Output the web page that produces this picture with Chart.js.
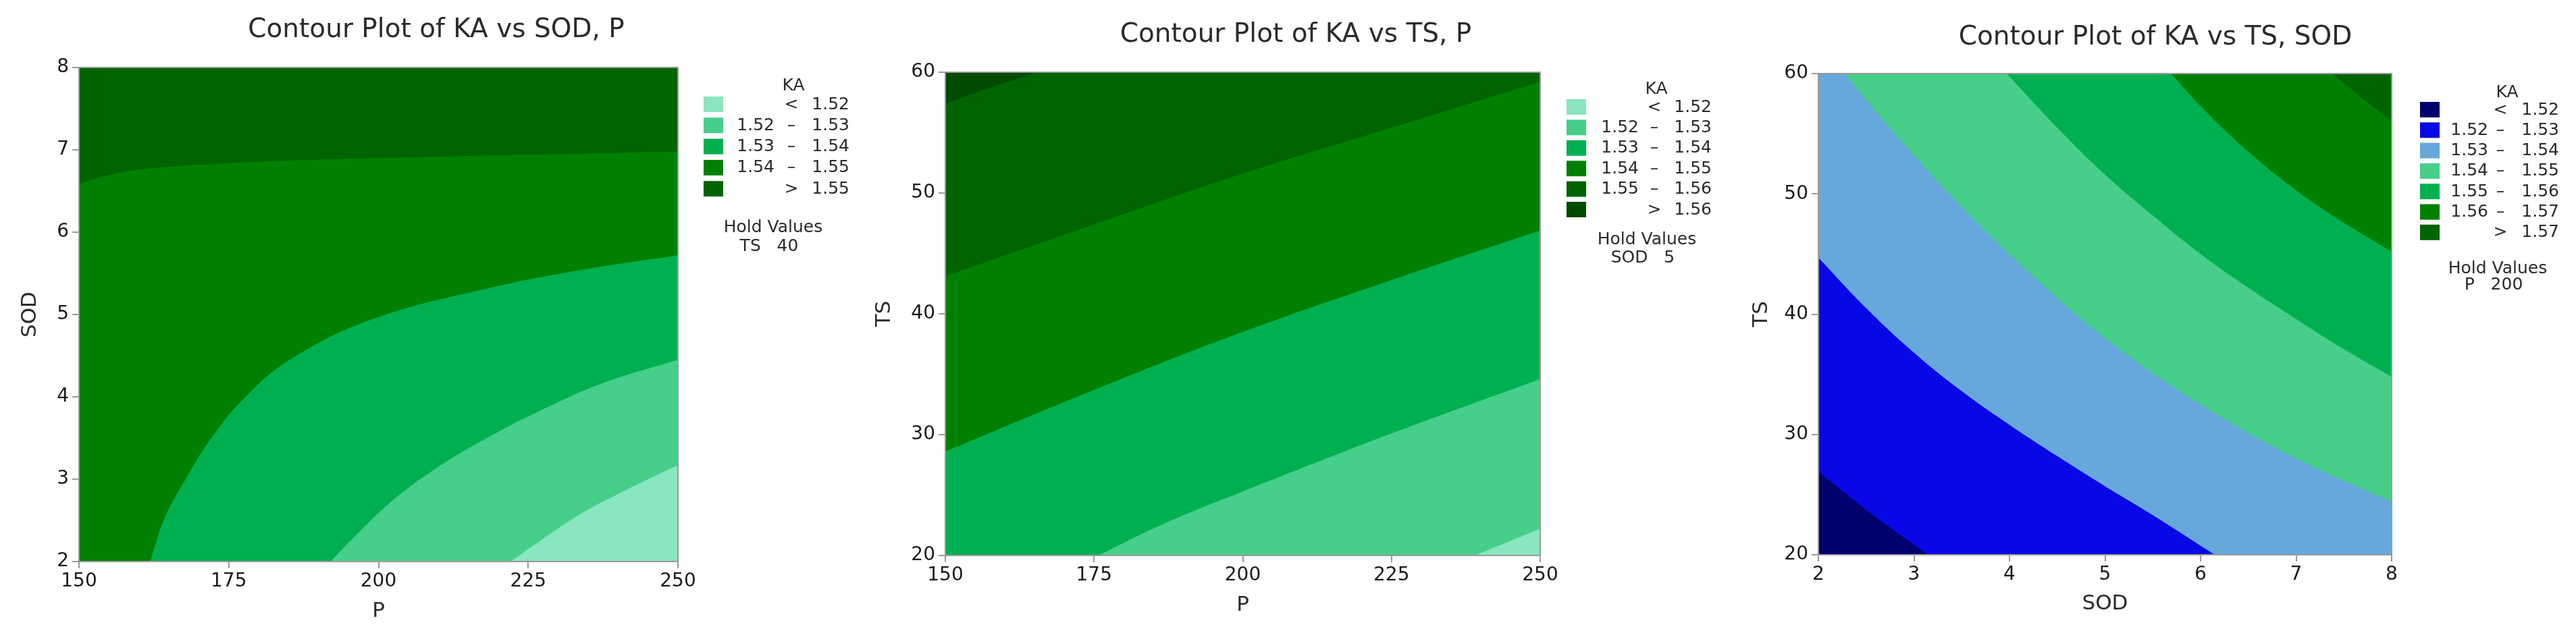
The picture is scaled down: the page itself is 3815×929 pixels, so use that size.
<!DOCTYPE html>
<html>
<head>
<meta charset="utf-8">
<title>Contour Plots of KA</title>
<script src="https://cdn.jsdelivr.net/npm/chart.js@4"></script>
<style>
  body { margin: 0; background: #fff; }
  #wrap { position: relative; width: 3815px; height: 929px; }
  canvas { position: absolute; top: 0; }
</style>
</head>
<body>
<div id="wrap">
  <canvas id="c1" width="1270" height="929" style="left:0"></canvas>
  <canvas id="c2" width="1270" height="929" style="left:1270px"></canvas>
  <canvas id="c3" width="1275" height="929" style="left:2540px"></canvas>
</div>
<script>
// axis ticks
var pTicks = [150, 175, 200, 225, 250];
var sodTicks = [2, 3, 4, 5, 6, 7, 8];
var tsTicks = [20, 30, 40, 50, 60];

// KA contour levels per panel
var levelsSodP = [1.52, 1.53, 1.54, 1.55];
var levelsTsP = [1.52, 1.53, 1.54, 1.55, 1.56];
var levelsTsSod = [1.52, 1.53, 1.54, 1.55, 1.56, 1.57];

// hold values
var holdSodP = ['TS', 40];
var holdTsP = ['SOD', 5];
var holdTsSod = ['P', 200];

// contour lines, [x, y]
// panel 1: x = P, y = SOD
var sodP_155 = [[150, 6.58], [153, 6.66], [156, 6.71], [160, 6.76], [166, 6.80], [173, 6.83], [185, 6.87], [200, 6.90], [225, 6.94], [250, 6.98]];
var sodP_154 = [[161.9, 2.0], [164.2, 2.51], [167.8, 3.0], [171.9, 3.48], [177.4, 3.97], [185.2, 4.45], [198.9, 4.94], [219, 5.33], [234.5, 5.55], [250, 5.72]];
var sodP_153 = [[192.0, 2.0], [196.1, 2.31], [202.5, 2.75], [209.8, 3.14], [218.9, 3.53], [228.1, 3.87], [237.2, 4.16], [250, 4.45]];
var sodP_152 = [[222.1, 2.0], [226, 2.2], [233.8, 2.58], [240, 2.82], [247.3, 3.08], [250, 3.17]];

// panel 2: x = P, y = TS
var tsP_156 = [[150, 57.4], [158, 58.8], [165.5, 60]];
var tsP_155 = [[150, 43.1], [175, 47.4], [200, 51.6], [225, 55.4], [250, 59.2]];
var tsP_154 = [[150, 28.6], [175, 33.7], [200, 38.5], [225, 42.8], [250, 46.9]];
var tsP_153 = [[175.7, 20], [186.6, 22.6], [200, 25.3], [225, 30.1], [250, 34.6]];
var tsP_152 = [[239, 20], [245, 21.2], [250, 22.2]];

// panel 3: x = SOD, y = TS
var tsSod_152 = [[2, 26.9], [2.59, 23.2], [3.15, 20]];
var tsSod_153 = [[2, 44.7], [2.5, 40.5], [3, 36.8], [3.5, 33.6], [4, 30.8], [4.5, 28.2], [5, 25.7], [5.5, 23.3], [6.15, 20]];
var tsSod_154 = [[2.27, 60], [2.8, 55], [3.44, 49.4], [4.2, 43.5], [5, 38], [6, 32.5], [7, 28], [8, 24.4]];
var tsSod_155 = [[3.97, 60], [4.5, 55.5], [5, 51.6], [5.5, 48.2], [6, 45], [6.5, 42.2], [7, 39.6], [7.5, 37.1], [8, 34.8]];
var tsSod_156 = [[5.69, 60], [6, 57.3], [6.5, 53.5], [7, 50.3], [7.5, 47.6], [8, 45.2]];
var tsSod_157 = [[7.38, 60], [7.7, 57.9], [8, 56]];

var pal = {
  lt: '#89E6BE', mint: '#47CE8B', mid: '#00B050', green: '#008000',
  dark: '#006400', darkest: '#004B00',
  navy: '#00006E', blue: '#0808E6', lblue: '#66A8DC'
};

Chart.defaults.font.family = '"DejaVu Sans", sans-serif';

// plot background (the band on top) and grey frame
var framePlugin = {
  id: 'frame',
  beforeDatasetsDraw: function (chart, args, o) {
    var a = chart.chartArea, ctx = chart.ctx;
    ctx.save();
    ctx.fillStyle = o.base;
    ctx.fillRect(a.left, a.top, a.right - a.left, a.bottom - a.top);
    ctx.restore();
  },
  afterDatasetsDraw: function (chart) {
    var a = chart.chartArea, ctx = chart.ctx;
    ctx.save();
    ctx.strokeStyle = '#9a9a9a';
    ctx.lineWidth = 2;
    ctx.strokeRect(a.left, a.top, a.right - a.left, a.bottom - a.top);
    ctx.restore();
  }
};

var titlePlugin = {
  id: 'panelTitle',
  afterDraw: function (chart, args, o) {
    var ctx = chart.ctx;
    ctx.save();
    ctx.font = '39px "DejaVu Sans"';
    ctx.fillStyle = '#2b2b2b';
    ctx.textAlign = 'center';
    ctx.textBaseline = 'middle';
    ctx.fillText(o.text, o.x, o.y);
    ctx.restore();
  }
};

// KA legend + hold values
var legendPlugin = {
  id: 'kaLegend',
  afterDraw: function (chart, args, o) {
    var ctx = chart.ctx, lv = o.levels, n = lv.length;
    ctx.save();
    ctx.font = '25px "DejaVu Sans"';
    ctx.textBaseline = 'middle';
    ctx.fillStyle = '#2b2b2b';
    ctx.textAlign = 'center';
    ctx.fillText('KA', o.kaX, o.kaY);
    for (var i = 0; i <= n; i++) {
      var y = o.y0 + i * o.step;
      var cy = y + 12;
      ctx.fillStyle = o.colors[i];
      ctx.fillRect(o.boxX, y, 29, 23);
      ctx.fillStyle = '#2b2b2b';
      ctx.textAlign = 'center';
      ctx.fillText(i === 0 ? '<' : (i === n ? '>' : '\u2013'), o.dashX, cy);
      ctx.textAlign = 'right';
      if (i > 0 && i < n) ctx.fillText(lv[i - 1].toFixed(2), o.leftX, cy);
      ctx.fillText(lv[Math.min(i, n - 1)].toFixed(2), o.rightX, cy);
    }
    ctx.textAlign = 'center';
    ctx.fillText('Hold Values', o.holdX, o.holdY);
    ctx.fillText(o.hold[0] + '   ' + o.hold[1], o.holdX - 6, o.holdY + o.holdGap);
    ctx.restore();
  }
};

Chart.register(framePlugin, titlePlugin, legendPlugin);

function band(line, color, fill, order) {
  return {
    data: line.map(function (p) { return { x: p[0], y: p[1] }; }),
    backgroundColor: color,
    borderColor: color,
    borderWidth: 0,
    pointRadius: 0,
    fill: fill,
    order: order,
    tension: 0.4
  };
}

function axis(ticks, title, titlePad, size, vertical) {
  return {
    type: 'linear',
    min: ticks[0],
    max: ticks[ticks.length - 1],
    afterBuildTicks: function (s) {
      s.ticks = ticks.map(function (v) { return { value: v }; });
    },
    ticks: { color: '#1a1a1a', font: { size: 28 }, padding: vertical ? 5 : 3 },
    grid: { drawOnChartArea: false, drawTicks: true, tickLength: 10, color: '#9a9a9a', lineWidth: 2 },
    border: { color: '#9a9a9a', width: 2 },
    title: { display: true, text: title, color: '#2b2b2b', font: { size: 31 }, padding: titlePad },
    afterFit: function (s) {
      if (vertical) s.width = size; else s.height = size;
    }
  };
}

function makePanel(id, p) {
  var ctx = document.getElementById(id).getContext('2d');
  var n = p.bands.length;
  return new Chart(ctx, {
    type: 'line',
    data: {
      datasets: p.bands.map(function (b, i) { return band(b[0], b[1], b[2], n - i); })
    },
    options: {
      responsive: false,
      animation: false,
      devicePixelRatio: 1,
      layout: { padding: p.padding },
      scales: {
        x: axis(p.xTicks, p.xTitle, { top: 0, bottom: p.xTitlePad }, p.xSize, false),
        y: axis(p.yTicks, p.yTitle, { top: p.yTitlePad, bottom: 0 }, p.ySize, true)
      },
      plugins: {
        legend: { display: false },
        tooltip: { enabled: false },
        frame: { base: p.base },
        panelTitle: p.title,
        kaLegend: p.legend
      }
    }
  });
}

makePanel('c1', {
  xTicks: pTicks, xTitle: 'P', xTitlePad: 4, xSize: 97,
  yTicks: sodTicks, yTitle: 'SOD', yTitlePad: 26, ySize: 117,
  padding: { top: 100, right: 266, left: 0, bottom: 0 },
  base: pal.dark,
  bands: [
    [sodP_155, pal.green, 'start'],
    [sodP_154, pal.mid, 'start'],
    [sodP_153, pal.mint, 'start'],
    [sodP_152, pal.lt, 'start']
  ],
  title: { text: 'Contour Plot of KA vs SOD, P', x: 646, y: 45 },
  legend: {
    levels: levelsSodP, colors: [pal.lt, pal.mint, pal.mid, pal.green, pal.dark],
    boxX: 1042, y0: 143, step: 31.3, kaX: 1175, kaY: 127,
    leftX: 1147, dashX: 1172, rightX: 1258,
    hold: holdSodP, holdX: 1145, holdY: 337, holdGap: 28
  }
});

makePanel('c2', {
  xTicks: pTicks, xTitle: 'P', xTitlePad: 13, xSize: 106,
  yTicks: tsTicks, yTitle: 'TS', yTitlePad: 21, ySize: 130,
  padding: { top: 107, right: 259, left: 0, bottom: 0 },
  base: pal.dark,
  bands: [
    [tsP_156, pal.darkest, 'end'],
    [tsP_155, pal.green, 'start'],
    [tsP_154, pal.mid, 'start'],
    [tsP_153, pal.mint, 'start'],
    [tsP_152, pal.lt, 'start']
  ],
  title: { text: 'Contour Plot of KA vs TS, P', x: 649, y: 52 },
  legend: {
    levels: levelsTsP, colors: [pal.lt, pal.mint, pal.mid, pal.green, pal.dark, pal.darkest],
    boxX: 1050, y0: 147, step: 30.4, kaX: 1183, kaY: 132,
    leftX: 1157, dashX: 1180, rightX: 1265,
    hold: holdTsP, holdX: 1169, holdY: 355, holdGap: 27
  }
});

makePanel('c3', {
  xTicks: sodTicks, xTitle: 'SOD', xTitlePad: 15, xSize: 107,
  yTicks: tsTicks, yTitle: 'TS', yTitlePad: 50, ySize: 153,
  padding: { top: 109, right: 273, left: 0, bottom: 0 },
  base: pal.lblue,
  bands: [
    [tsSod_154, pal.mint, 'end'],
    [tsSod_155, pal.mid, 'end'],
    [tsSod_156, pal.green, 'end'],
    [tsSod_157, pal.dark, 'end'],
    [tsSod_153, pal.blue, 'start'],
    [tsSod_152, pal.navy, 'start']
  ],
  title: { text: 'Contour Plot of KA vs TS, SOD', x: 652, y: 56 },
  legend: {
    levels: levelsTsSod, colors: [pal.navy, pal.blue, pal.lblue, pal.mint, pal.mid, pal.green, pal.dark],
    boxX: 1044, y0: 151, step: 30.3, kaX: 1173, kaY: 137,
    leftX: 1145, dashX: 1163, rightX: 1250,
    hold: holdTsSod, holdX: 1159, holdY: 398, holdGap: 24
  }
});
</script>
</body>
</html>
